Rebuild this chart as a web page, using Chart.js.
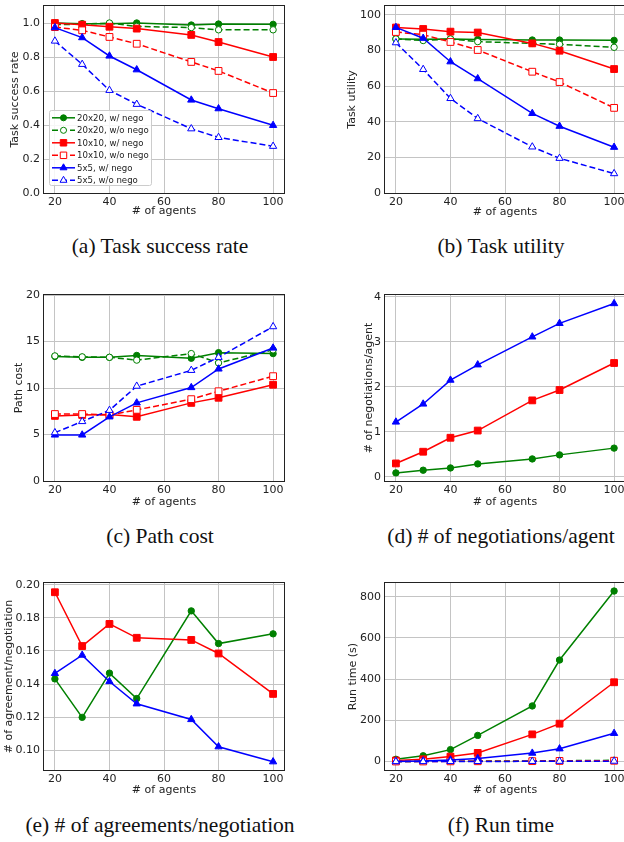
<!DOCTYPE html>
<html><head><meta charset="utf-8">
<script src="https://cdn.jsdelivr.net/npm/chart.js@4.4.0/dist/chart.umd.min.js"></script>
<style>
html,body{margin:0;padding:0;background:#fff;width:624px;height:842px;overflow:hidden;position:relative}
canvas{position:absolute}
.cap{position:absolute;font-family:"Liberation Serif","Times New Roman",serif;font-size:21.5px;line-height:1;color:#111;white-space:nowrap;transform:translate(-50%,-50%)}
</style></head><body>
<div class="cap" style="left:160px;top:247px">(a) Task success rate</div>
<div class="cap" style="left:501px;top:247px">(b) Task utility</div>
<div class="cap" style="left:160px;top:537px">(c) Path cost</div>
<div class="cap" style="left:501px;top:537px">(d) # of negotiations/agent</div>
<div class="cap" style="left:160px;top:826px">(e) # of agreements/negotiation</div>
<div class="cap" style="left:501px;top:826px">(f) Run time</div>
<script>
// ---------- data ----------
const agents = [20, 30, 40, 50, 70, 80, 100];
const xTicks = [20, 40, 60, 80, 100];
const seriesLabels = ['20x20, w/ nego', '20x20, w/o nego', '10x10, w/ nego', '10x10, w/o nego', '5x5, w/ nego', '5x5, w/o nego'];

// (a) task success rate
const success_20_nego   = [1.0, 0.996, 0.996, 1.0, 0.988, 0.994, 0.992];
const success_20_nonego = [0.99, 0.993, 1.0, 0.98, 0.973, 0.96, 0.96];
const success_10_nego   = [1.0, 0.99, 0.978, 0.967, 0.93, 0.888, 0.80];
const success_10_nonego = [0.976, 0.957, 0.918, 0.878, 0.771, 0.718, 0.588];
const success_5_nego    = [0.973, 0.914, 0.806, 0.725, 0.547, 0.496, 0.398];
const success_5_nonego  = [0.894, 0.757, 0.604, 0.522, 0.378, 0.327, 0.275];
const successTicks = [0, 0.2, 0.4, 0.6, 0.8, 1.0];

// (b) task utility
const utility_20_nego   = [86.5, 86.3, 86.5, 86.2, 85.9, 85.9, 85.7];
const utility_20_nonego = [86.5, 85.6, 86.5, 85.0, 84.0, 83.5, 81.8];
const utility_10_nego   = [92.9, 92.1, 90.6, 90.1, 84.0, 79.9, 69.6];
const utility_10_nonego = [90.4, 88.9, 84.8, 80.3, 68.1, 62.3, 47.8];
const utility_5_nego    = [93.0, 86.9, 73.7, 64.2, 44.7, 37.5, 25.7];
const utility_5_nonego  = [84.4, 69.4, 53.1, 41.8, 25.9, 19.5, 10.9];
const utilityTicks = [0, 20, 40, 60, 80, 100];

// (c) path cost
const cost_20_nego   = [13.4, 13.3, 13.3, 13.5, 13.2, 13.8, 13.7];
const cost_20_nonego = [13.45, 13.35, 13.3, 13.0, 13.7, 12.7, 14.1];
const cost_10_nego   = [7.0, 7.1, 7.15, 6.9, 8.4, 8.95, 10.35];
const cost_10_nonego = [7.2, 7.2, 7.1, 7.65, 8.8, 9.65, 11.27];
const cost_5_nego    = [4.95, 4.95, 6.9, 8.4, 10.05, 12.05, 14.3];
const cost_5_nonego  = [5.2, 6.4, 7.6, 10.2, 11.9, 13.3, 16.6];
const costTicks = [0, 5, 10, 15, 20];

// (d) negotiations per agent
const negos_20 = [0.09, 0.15, 0.20, 0.29, 0.40, 0.49, 0.64];
const negos_10 = [0.30, 0.56, 0.87, 1.03, 1.70, 1.93, 2.53];
const negos_5  = [1.22, 1.62, 2.15, 2.49, 3.11, 3.41, 3.85];
const negosTicks = [0, 1, 2, 3, 4];

// (e) agreements per negotiation
const agree_20 = [0.1431, 0.1198, 0.1466, 0.1312, 0.1843, 0.1645, 0.1704];
const agree_10 = [0.1956, 0.1630, 0.1764, 0.1680, 0.1667, 0.1585, 0.1340];
const agree_5  = [0.1464, 0.1575, 0.1415, 0.1280, 0.1185, 0.1020, 0.0929];
const agreeTicks = [0.10, 0.12, 0.14, 0.16, 0.18, 0.20];

// (f) run time (s)
const runtime_20_nego   = [11, 28, 58, 127, 270, 493, 828];
const runtime_20_nonego = [0.5, 1, 1.5, 2, 3, 4, 6];
const runtime_10_nego   = [5, 11, 24, 42, 132, 184, 385];
const runtime_10_nonego = [0.3, 0.5, 1, 1.5, 2, 3, 4];
const runtime_5_nego    = [0, 3, 8, 15, 41, 62, 137];
const runtime_5_nonego  = [0.1, 0.2, 0.4, 0.6, 1, 1.5, 2];
const runtimeTicks = [0, 200, 400, 600, 800];

// ---------- styles ----------
const GREEN = '#008000', RED = '#ff0000', BLUE = '#0000ff';
const STY = {
  '20': {color: GREEN, point: 'circle', r: 3.2},
  '10': {color: RED, point: 'rect', r: 4.8},
  '5':  {color: BLUE, point: 'triangle', r: 4.2}
};
function ds(label, ys, size, nego, idx) {
  const s = STY[size];
  return {
    label,
    data: agents.map((x, i) => ({x, y: ys[i]})),
    borderColor: s.color,
    backgroundColor: s.color,
    borderWidth: 1.5,
    borderDash: nego ? [] : [6, 3],
    pointStyle: s.point,
    pointRadius: s.r,
    pointHoverRadius: s.r,
    pointBorderWidth: 1,
    pointBorderColor: s.color,
    pointBackgroundColor: nego ? s.color : '#ffffff',
    tension: 0,
    fill: false,
    order: 20 - idx
  };
}

const PAD_TOP = 14, PAD_RIGHT = 6, Y_W = 60, X_H = 40;
const FONT = 'DejaVu Sans';

const framePlugin = {
  id: 'frame',
  afterDatasetsDraw(chart) {
    const {ctx, chartArea: a} = chart;
    ctx.save();
    ctx.strokeStyle = '#222';
    ctx.lineWidth = 1;
    ctx.setLineDash([]);
    ctx.strokeRect(Math.round(a.left) - 0.5, Math.round(a.top) - 0.5, Math.round(a.right - a.left) + 1, Math.round(a.bottom - a.top) + 1);
    ctx.restore();
  }
};

function drawMarker(ctx, style, r, x, y) {
  ctx.beginPath();
  if (style === 'circle') {
    ctx.arc(x, y, r, 0, Math.PI * 2);
  } else if (style === 'rect') {
    const h = r * Math.SQRT1_2;
    ctx.rect(x - h, y - h, 2 * h, 2 * h);
  } else {
    ctx.moveTo(x, y - r);
    ctx.lineTo(x + r * Math.sin(2 * Math.PI / 3), y - r * Math.cos(2 * Math.PI / 3));
    ctx.lineTo(x + r * Math.sin(4 * Math.PI / 3), y - r * Math.cos(4 * Math.PI / 3));
    ctx.closePath();
  }
  ctx.fill();
  ctx.stroke();
}

function makeLegendPlugin(box, canvasLeft, canvasTop) {
  return {
    id: 'boxlegend',
    afterDraw(chart) {
      const ctx = chart.ctx;
      const L = box.L - canvasLeft, T = box.T - canvasTop, R = box.R - canvasLeft, B = box.B - canvasTop;
      ctx.save();
      ctx.fillStyle = 'rgba(255,255,255,0.85)';
      ctx.strokeStyle = '#cccccc';
      ctx.lineWidth = 1;
      ctx.beginPath();
      if (ctx.roundRect) ctx.roundRect(L + 0.5, T + 0.5, R - L, B - T, 2); else ctx.rect(L + 0.5, T + 0.5, R - L, B - T);
      ctx.fill();
      ctx.stroke();
      chart.data.datasets.forEach((d, i) => {
        const y = T + 7.8 + i * 12.5;
        ctx.strokeStyle = d.borderColor;
        ctx.lineWidth = 1.5;
        ctx.setLineDash(d.borderDash || []);
        ctx.beginPath();
        ctx.moveTo(L + 3, y);
        ctx.lineTo(L + 26, y);
        ctx.stroke();
        ctx.setLineDash([]);
        ctx.lineWidth = 1;
        ctx.fillStyle = d.pointBackgroundColor;
        ctx.strokeStyle = d.pointBorderColor;
        drawMarker(ctx, d.pointStyle, d.pointRadius * 0.95, L + 14.5, y);
        ctx.fillStyle = '#222';
        ctx.font = '8.6px "' + FONT + '"';
        ctx.textBaseline = 'middle';
        ctx.textAlign = 'left';
        ctx.fillText(d.label, L + 28, y + 0.5);
      });
      ctx.restore();
    }
  };
}

function build(spec) {
  const {L, T, R, B} = spec.plot;
  const cw = Y_W + (R - L) + PAD_RIGHT;
  const ch = PAD_TOP + (B - T) + X_H;
  const left = L - Y_W, top = T - PAD_TOP;
  const cv = document.createElement('canvas');
  cv.width = cw; cv.height = ch;
  cv.style.left = left + 'px'; cv.style.top = top + 'px';
  cv.style.width = cw + 'px'; cv.style.height = ch + 'px';
  document.body.appendChild(cv);
  const tSize = 11, lh = tSize * 1.2;
  const yTitlePad = spec.yTitleX - left - lh / 2;
  const xTitlePad = (B + X_H) - spec.xTitleY - lh / 2;
  const plugins = [framePlugin];
  if (spec.legend) plugins.push(makeLegendPlugin(spec.legend, left, top));
  new Chart(cv, {
    type: 'line',
    data: {datasets: spec.datasets},
    options: {
      responsive: false,
      animation: false,
      devicePixelRatio: 1,
      events: [],
      layout: {padding: {left: 0, top: PAD_TOP, right: PAD_RIGHT, bottom: 0}},
      plugins: {legend: {display: false}, tooltip: {enabled: false}},
      scales: {
        x: {
          type: 'linear', min: 16, max: 104,
          afterBuildTicks: s => { s.ticks = xTicks.map(v => ({value: v})); },
          afterFit: s => { s.height = X_H; },
          grid: {color: '#c4c4c4', lineWidth: 1, drawTicks: false},
          border: {display: false},
          ticks: {autoSkip: false, maxRotation: 0, padding: 3, color: '#222', font: {family: FONT, size: 11}, callback: v => String(v)},
          title: {display: true, text: '# of agents', color: '#222', font: {family: FONT, size: tSize, lineHeight: 1.2}, padding: {top: 0, bottom: xTitlePad}}
        },
        y: {
          type: 'linear', min: spec.yMin, max: spec.yMax,
          afterBuildTicks: s => { s.ticks = spec.yTicks.map(v => ({value: v})); },
          afterFit: s => { s.width = Y_W; },
          grid: {color: '#c4c4c4', lineWidth: 1, drawTicks: false},
          border: {display: false},
          ticks: {autoSkip: false, padding: 4, color: '#222', font: {family: FONT, size: 11}, callback: spec.fmt},
          title: {display: true, text: spec.yTitle, color: '#222', font: {family: FONT, size: tSize, lineHeight: 1.2}, padding: {top: yTitlePad, bottom: 0}}
        }
      }
    },
    plugins
  });
}

const intFmt = v => String(Math.round(v));

build({
  plot: {L: 44, T: 6, R: 284, B: 193}, yMin: 0, yMax: 1.1, yTicks: successTicks, fmt: v => v.toFixed(1),
  yTitle: 'Task success rate', yTitleX: 15.5, xTitleY: 211.5,
  legend: {L: 49, T: 110, R: 151, B: 185},
  datasets: [
    ds(seriesLabels[0], success_20_nego, '20', true, 0),
    ds(seriesLabels[1], success_20_nonego, '20', false, 1),
    ds(seriesLabels[2], success_10_nego, '10', true, 2),
    ds(seriesLabels[3], success_10_nonego, '10', false, 3),
    ds(seriesLabels[4], success_5_nego, '5', true, 4),
    ds(seriesLabels[5], success_5_nonego, '5', false, 5)
  ]
});
build({
  plot: {L: 385, T: 6, R: 625, B: 193}, yMin: 0, yMax: 105, yTicks: utilityTicks, fmt: intFmt,
  yTitle: 'Task utility', yTitleX: 352.5, xTitleY: 212,
  datasets: [
    ds(seriesLabels[0], utility_20_nego, '20', true, 0),
    ds(seriesLabels[1], utility_20_nonego, '20', false, 1),
    ds(seriesLabels[2], utility_10_nego, '10', true, 2),
    ds(seriesLabels[3], utility_10_nonego, '10', false, 3),
    ds(seriesLabels[4], utility_5_nego, '5', true, 4),
    ds(seriesLabels[5], utility_5_nonego, '5', false, 5)
  ]
});
build({
  plot: {L: 44, T: 295, R: 284, B: 481}, yMin: 0, yMax: 20, yTicks: costTicks, fmt: intFmt,
  yTitle: 'Path cost', yTitleX: 19.5, xTitleY: 502,
  datasets: [
    ds(seriesLabels[0], cost_20_nego, '20', true, 0),
    ds(seriesLabels[1], cost_20_nonego, '20', false, 1),
    ds(seriesLabels[2], cost_10_nego, '10', true, 2),
    ds(seriesLabels[3], cost_10_nonego, '10', false, 3),
    ds(seriesLabels[4], cost_5_nego, '5', true, 4),
    ds(seriesLabels[5], cost_5_nonego, '5', false, 5)
  ]
});
build({
  plot: {L: 385, T: 295, R: 625, B: 481}, yMin: -0.09, yMax: 4.04, yTicks: negosTicks, fmt: intFmt,
  yTitle: '# of negotiations/agent', yTitleX: 369, xTitleY: 502,
  datasets: [
    ds(seriesLabels[0], negos_20, '20', true, 0),
    ds(seriesLabels[2], negos_10, '10', true, 1),
    ds(seriesLabels[4], negos_5, '5', true, 2)
  ]
});
build({
  plot: {L: 44, T: 583, R: 284, B: 770}, yMin: 0.0879, yMax: 0.2012, yTicks: agreeTicks, fmt: v => v.toFixed(2),
  yTitle: '# of agreement/negotiation', yTitleX: 9.5, xTitleY: 790,
  datasets: [
    ds(seriesLabels[0], agree_20, '20', true, 0),
    ds(seriesLabels[2], agree_10, '10', true, 1),
    ds(seriesLabels[4], agree_5, '5', true, 2)
  ]
});
build({
  plot: {L: 385, T: 583, R: 625, B: 770}, yMin: -41, yMax: 867, yTicks: runtimeTicks, fmt: intFmt,
  yTitle: 'Run time (s)', yTitleX: 353, xTitleY: 790,
  datasets: [
    ds(seriesLabels[0], runtime_20_nego, '20', true, 0),
    ds(seriesLabels[1], runtime_20_nonego, '20', false, 1),
    ds(seriesLabels[2], runtime_10_nego, '10', true, 2),
    ds(seriesLabels[3], runtime_10_nonego, '10', false, 3),
    ds(seriesLabels[4], runtime_5_nego, '5', true, 4),
    ds(seriesLabels[5], runtime_5_nonego, '5', false, 5)
  ]
});
</script>
</body></html>
